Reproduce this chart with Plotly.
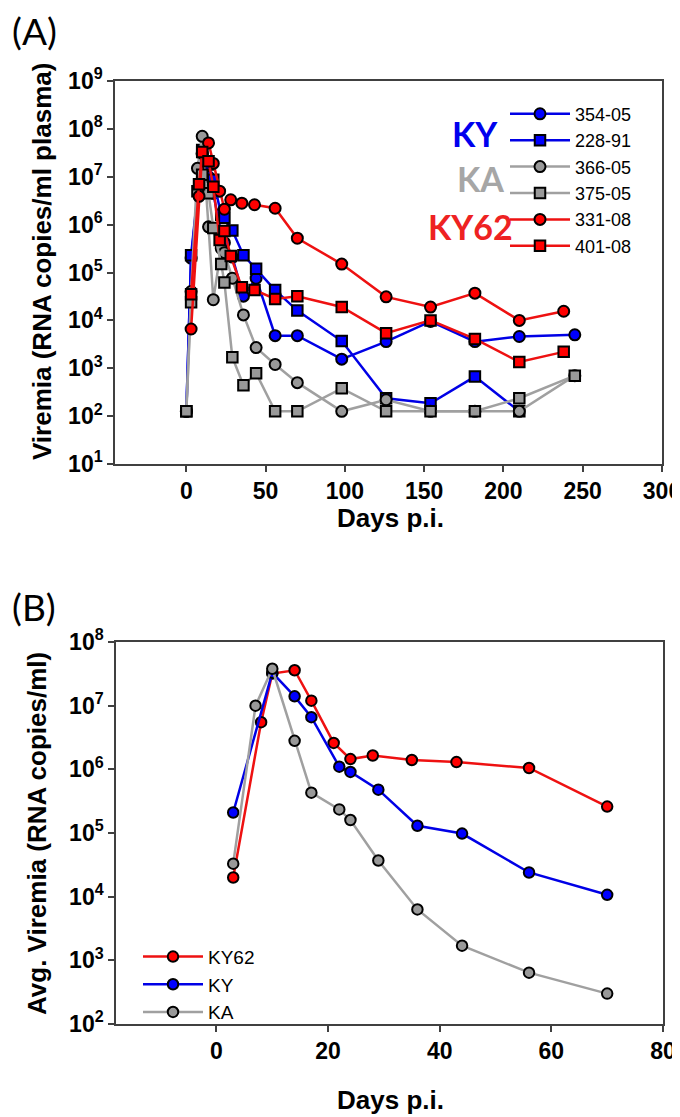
import plotly.graph_objects as go

W, H = 680, 1117
OFF = 8  # page body margin of the html page

# ---------------- Panel A data (individual animals) ----------------
days_ky = [0, 3, 10, 14, 17, 22, 24, 29, 36, 44, 56, 70, 98, 126, 154, 182, 210, 245]
v_354_05 = [126, 2.0e5, 3.0e7, 1.0e7, 4.5e6, 6.5e5, 4.2e5, 2.1e5, 3.2e4, 7.6e4, 4.8e3, 4.8e3,
            1.55e3, 3.6e3, 9.5e3, 3.6e3, 4.6e3, 5.0e3]
days_228 = [0, 3, 10, 14, 17, 22, 24, 29, 36, 44, 56, 70, 98, 126, 154, 182, 210]
v_228_91 = [126, 2.3e5, 3.6e7, 1.8e7, 8.7e6, 1.6e6, 1.4e6, 7.5e5, 2.3e5, 1.2e5, 4.3e4, 1.6e4,
            3.7e3, 236, 185, 670, 126]
days_ka = [0, 3, 7, 10, 14, 17, 22, 24, 29, 36, 44, 56, 70, 98, 126, 154, 182, 210, 245]
v_366_05 = [126, 4.0e4, 1.5e7, 7.0e7, 9.0e5, 2.7e4, 3.2e5, 2.6e5, 7.6e4, 1.3e4, 2.7e3, 1.2e3,
            500, 126, 220, 126, 126, 126, 700]
v_375_05 = [126, 2.4e4, 5.0e6, 1.1e7, 4.5e6, 8.5e5, 1.5e5, 6.2e4, 1.7e3, 440, 790, 126,
            126, 380, 126, 126, 126, 236, 700]
days_ky62 = [3, 8, 10, 14, 17, 21, 24, 28, 35, 43, 56, 70, 98, 126, 154, 182, 210, 238]
v_331_08 = [6.6e3, 3.9e6, 3.1e7, 5.1e7, 1.9e7, 5.0e6, 2.1e6, 3.3e6, 2.8e6, 2.6e6, 2.2e6, 5.2e5,
            1.5e5, 3.1e4, 1.9e4, 3.7e4, 1.0e4, 1.55e4]
v_401_08 = [3.5e4, 7.0e6, 3.3e7, 2.1e7, 6.2e6, 4.8e5, 7.4e5, 2.2e5, 4.9e4, 4.3e4, 2.8e4, 3.2e4,
            1.9e4, 5.4e3, 1.0e4, 4.1e3, 1.35e3, 2.2e3]

# ---------------- Panel B data (group averages) ----------------
b_days_ky62 = [3, 8, 10, 14, 17, 21, 24, 28, 35, 43, 56, 70]
b_ky62 = [2.0e4, 5.5e6, 3.2e7, 3.6e7, 1.2e7, 2.6e6, 1.45e6, 1.65e6, 1.4e6, 1.3e6, 1.05e6, 2.6e5]
b_days_ky = [3, 10, 14, 17, 22, 24, 29, 36, 44, 56, 70]
b_ky = [2.1e5, 3.3e7, 1.4e7, 6.6e6, 1.1e6, 9.1e5, 4.8e5, 1.3e5, 9.8e4, 2.4e4, 1.07e4]
b_days_ka = [3, 7, 10, 14, 17, 22, 24, 29, 36, 44, 56, 70]
b_ka = [3.3e4, 1.0e7, 3.8e7, 2.8e6, 4.3e5, 2.35e5, 1.6e5, 3.7e4, 6.3e3, 1.7e3, 640, 300]

xticks_A = [0, 50, 100, 150, 200, 250, 300]
xticks_B = [0, 20, 40, 60, 80]
yexp_A = [1, 2, 3, 4, 5, 6, 7, 8, 9]
yexp_B = [2, 3, 4, 5, 6, 7, 8]

BLUE, RED, GRAY = "#0000FF", "#FF0000", "#999999"
LBLUE, LRED, LGRAY = "#0000E6", "#EE1111", "#A0A0A0"

fig = go.Figure()


def add(x, y, name, fill, lcol, symbol, xa, ya, legend, size):
    fig.add_trace(go.Scatter(
        x=x, y=y, name=name, mode="lines+markers", xaxis=xa, yaxis=ya, legend=legend,
        line=dict(color=lcol, width=2.5),
        marker=dict(symbol=symbol, size=size, color=fill, line=dict(color="black", width=2)),
        cliponaxis=False))


add(days_ky, v_354_05, "354-05", BLUE, LBLUE, "circle", "x", "y", "legend", 11)
add(days_228, v_228_91, "228-91", BLUE, LBLUE, "square", "x", "y", "legend", 10.5)
add(days_ka, v_366_05, "366-05", GRAY, LGRAY, "circle", "x", "y", "legend", 11)
add(days_ka, v_375_05, "375-05", GRAY, LGRAY, "square", "x", "y", "legend", 10.5)
add(days_ky62, v_331_08, "331-08", RED, LRED, "circle", "x", "y", "legend", 11)
add(days_ky62, v_401_08, "401-08", RED, LRED, "square", "x", "y", "legend", 10.5)

add(b_days_ky62, b_ky62, "KY62", RED, LRED, "circle", "x2", "y2", "legend2", 10.5)
add(b_days_ky, b_ky, "KY", BLUE, LBLUE, "circle", "x2", "y2", "legend2", 10.5)
add(b_days_ka, b_ka, "KA", GRAY, LGRAY, "circle", "x2", "y2", "legend2", 10.5)

AX = "#404040"
TICKFONT = dict(family="Liberation Sans, Arial", size=23, color="black", weight="bold")


def px(x):
    return (x - OFF) / W


def py(y):
    return 1 - (y - OFF) / H


def xax(domain, ticks, rng, anchor):
    return dict(domain=domain, range=rng, anchor=anchor, tickvals=ticks,
                ticktext=[str(t) for t in ticks], showgrid=False, zeroline=False,
                showline=True, linecolor=AX, linewidth=1.5, mirror=True,
                ticks="outside", ticklen=6, tickwidth=1.5, tickcolor=AX,
                tickfont=TICKFONT, automargin=False)


def yax(domain, exps, anchor):
    return dict(domain=domain, type="log", range=[exps[0], exps[-1]], anchor=anchor,
                tickvals=[10 ** e for e in exps],
                ticktext=["10<sup>%d</sup>" % e for e in exps],
                showgrid=False, zeroline=False, showline=True, linecolor=AX, linewidth=1.5,
                mirror=True, ticks="outside", ticklen=6, tickwidth=1.5, tickcolor=AX,
                tickfont=TICKFONT, automargin=False)


fig.update_layout(
    width=W, height=H, template="none",
    margin=dict(l=0, r=0, t=0, b=0),
    paper_bgcolor="white", plot_bgcolor="white",
    xaxis=xax([px(115), px(662)], xticks_A, [-45, 300], "y"),
    yaxis=yax([py(464), py(81)], yexp_A, "x"),
    xaxis2=xax([px(116), px(663)], xticks_B, [-18, 80], "y2"),
    yaxis2=yax([py(1024), py(642)], yexp_B, "x2"),
    legend=dict(x=px(505), y=py(95.6), xanchor="left", yanchor="top", itemwidth=60,
                font=dict(family="Liberation Sans, Arial", size=18, color="black"),
                bgcolor="rgba(0,0,0,0)", tracegroupgap=0),
    legend2=dict(x=px(138), y=py(937.7), xanchor="left", yanchor="top", itemwidth=60,
                 font=dict(family="Liberation Sans, Arial", size=19, color="black"),
                 bgcolor="rgba(0,0,0,0)", tracegroupgap=0),
    showlegend=True,
)

TITLEFONT = dict(family="Liberation Sans, Arial", size=26, color="black", weight="bold")


def note(text, x, y, font, angle=0):
    return dict(text=text, x=px(x), y=py(y), xref="paper", yref="paper", showarrow=False,
                xanchor="center", yanchor="middle", textangle=angle, font=font, borderpad=0)


ann = [
    note("(A)", 34, 31, dict(family="Lato", size=37, color="black")),
    note("(B)", 34, 606, dict(family="Lato", size=37, color="black")),
    note("Viremia (RNA copies/ml plasma)", 42, 262, TITLEFONT, -90),
    note("Avg. Viremia (RNA copies/ml)", 37, 834, TITLEFONT, -90),
    note("Days p.i.", 390, 518, TITLEFONT),
    note("Days p.i.", 390, 1100, TITLEFONT),
    note("KY", 475, 133, dict(family="Lato", size=34, color="#0000EE", weight="bold")),
    note("KA", 480, 178, dict(family="Lato", size=34, color="#A6A6A6", weight="bold")),
    note("KY62", 470, 227, dict(family="Lato", size=34, color="#EE2222", weight="bold")),
]
fig.update_layout(annotations=ann)

fig.write_html("out.html")
